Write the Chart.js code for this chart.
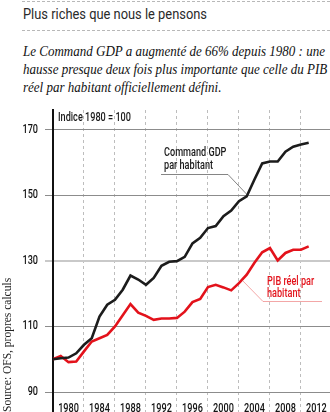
<!DOCTYPE html>
<html>
<head>
<meta charset="utf-8">
<script src="https://cdn.jsdelivr.net/npm/chart.js@4"></script>
<style>
  body { margin: 0; width: 330px; height: 412px; overflow: hidden; background: #fff; position: relative; }
  .wrap { position: absolute; left: 0; top: 0; width: 330px; height: 412px; }
  .dash { position: absolute; left: 22px; right: 0; border-top: 1px dashed #b8b8b8; height: 0; }
  .title { position: absolute; left: 23px; top: 6px; font: 14.5px Roboto, sans-serif; color: #2a2a2a; white-space: nowrap; transform-origin: 0 50%; }
  .sub { position: absolute; left: 23px; top: 42px; font: italic 15px "Liberation Serif", serif; line-height: 18px; color: #111; white-space: nowrap; }
  .sub span { display: block; transform-origin: 0 50%; width: max-content; }
</style>
</head>
<body>
<div class="dash" style="top:1px"></div>
<div class="title" id="title">Plus riches que nous le pensons</div>
<div class="dash" style="top:30px"></div>
<div class="sub" id="sub"><span>Le Command GDP a augmenté de 66% depuis 1980 : une</span><span>hausse presque deux fois plus importante que celle du PIB</span><span>réel par habitant officiellement défini.</span></div>
<div class="wrap"><canvas id="chart"></canvas></div>
<script>
const years = [1980, 1981, 1982, 1983, 1984, 1985, 1986, 1987, 1988, 1989, 1990, 1991, 1992, 1993, 1994, 1995, 1996,
  1997, 1998, 1999, 2000, 2001, 2002, 2003, 2004, 2005, 2006, 2007, 2008, 2009, 2010, 2011, 2012, 2013];
const commandGdp = [100, 100.3, 100.5, 101.8, 104.4, 106.4, 113.0, 116.6, 118.1, 121.2, 125.5, 124.3, 122.7, 124.8, 128.5, 129.7, 129.9,
  131.2, 135.3, 137.0, 140.0, 140.6, 143.6, 145.3, 148.2, 149.7, 154.8, 159.7, 160.3, 160.3, 163.3, 164.8, 165.5, 166.0];
const pibReel = [100, 101.0, 99.1, 99.3, 102.4, 105.4, 106.4, 107.4, 110.0, 113.4, 116.8, 114.2, 113.2, 112.0, 112.4, 112.4, 112.6,
  114.5, 117.4, 118.4, 122.0, 122.7, 121.9, 121.0, 123.2, 125.8, 129.4, 132.6, 133.9, 130.1, 132.4, 133.4, 133.4, 134.4];
const xLabels = ['1980', '1984', '1988', '1992', '1996', '2000', '2004', '2008', '2012'];
const yTicks = [90, 110, 130, 150, 170];

// no condensed font here, so squeeze the header text to the original widths
const subLines = document.querySelectorAll('#sub span');
const k = 302 / subLines[0].getBoundingClientRect().width;
subLines.forEach(s => { s.style.transform = 'scaleX(' + k + ')'; });
const title = document.getElementById('title');
title.style.transform = 'scaleX(' + (184 / title.getBoundingClientRect().width) + ')';

// same trick on the canvas: every label is drawn narrower around its anchor
const canvas = document.getElementById('chart');
const c2d = canvas.getContext('2d');
const rawFill = c2d.fillText.bind(c2d);
c2d.squeeze = 0.76;
c2d.fillText = function (t, x, y) {
  this.save();
  this.translate(x, y);
  this.scale(this.squeeze, 1);
  rawFill(t, 0, 0);
  this.restore();
};

const sans = 'Roboto, sans-serif';

const notes = {
  id: 'notes',
  afterDatasetsDraw(chart) {
    const ctx = chart.ctx;
    const x = chart.scales.x, y = chart.scales.y;
    ctx.save();
    ctx.font = '500 12px ' + sans;
    ctx.textBaseline = 'middle';
    ctx.fillStyle = '#1a1a1a';
    ctx.fillText('Indice 1980 = 100', 58, 118);
    ctx.fillText('Command GDP', 164, 153);
    ctx.fillText('par habitant', 164, 166);
    ctx.strokeStyle = '#666';
    ctx.lineWidth = 0.8;
    ctx.beginPath();
    ctx.moveTo(161, 174.5);
    ctx.lineTo(228, 174.5);
    ctx.lineTo(x.getPixelForValue(2005), y.getPixelForValue(commandGdp[25]) - 2);
    ctx.stroke();
    ctx.fillStyle = '#e3121b';
    ctx.fillText('PIB réel par', 267, 282);
    ctx.fillText('habitant', 267, 294);
    ctx.strokeStyle = '#f09090';
    ctx.beginPath();
    ctx.moveTo(x.getPixelForValue(2004.5), y.getPixelForValue((pibReel[24] + pibReel[25]) / 2) + 2);
    ctx.lineTo(263, 301.5);
    ctx.lineTo(322, 301.5);
    ctx.stroke();
    ctx.translate(11, 412);
    ctx.rotate(-Math.PI / 2);
    ctx.fillStyle = '#222';
    ctx.font = '11.5px "Liberation Serif", serif';
    ctx.textBaseline = 'alphabetic';
    ctx.squeeze = 1;
    ctx.fillText('Source: OFS, propres calculs', 0, 0);
    ctx.squeeze = 0.76;
    ctx.restore();
  }
};

new Chart(canvas, {
  type: 'line',
  data: {
    datasets: [
      {
        label: 'Command GDP par habitant',
        data: years.map((yr, i) => ({ x: yr, y: commandGdp[i] })),
        borderColor: '#1c1c1c',
        borderWidth: 2.6,
        pointRadius: 0,
        tension: 0
      },
      {
        label: 'PIB réel par habitant',
        data: years.map((yr, i) => ({ x: yr, y: pibReel[i] })),
        borderColor: '#e3121b',
        borderWidth: 2.6,
        pointRadius: 0,
        tension: 0
      }
    ]
  },
  options: {
    responsive: true,
    maintainAspectRatio: false,
    animation: false,
    layout: { padding: { top: 110, left: 0, right: 0, bottom: 0 } },
    plugins: { legend: { display: false }, tooltip: { enabled: false } },
    scales: {
      x: {
        type: 'linear',
        min: 1980,
        max: 2015.75,
        afterBuildTicks(scale) {
          const t = [];
          xLabels.forEach(l => { t.push({ value: +l }); t.push({ value: +l + 2 }); });
          scale.ticks = t;
        },
        afterFit(scale) { scale.height = 20; },
        grid: {
          color: c => c.tick && c.tick.value === 1980 ? '#111' : (c.tick && c.tick.value % 4 === 0 ? '#bdbdbd' : 'rgba(0,0,0,0)'),
          lineWidth: c => c.tick && c.tick.value === 1980 ? 2 : 1,
          tickLength: 20,
          tickBorderDash: c => c.tick && c.tick.value === 1980 ? [] : [3, 3]
        },
        border: { display: false, dash: [3, 3] },
        ticks: {
          autoSkip: false,
          maxRotation: 0,
          padding: -10,
          color: '#111',
          font: { family: sans, weight: 500, size: 12 },
          callback: v => (v % 4 === 2 ? xLabels[(v - 1982) / 4] : '')
        }
      },
      y: {
        min: 90,
        max: 176,
        afterBuildTicks(scale) { scale.ticks = yTicks.map(v => ({ value: v })); },
        afterFit(scale) { scale.width = 53; },
        grid: {
          color: c => c.tick && c.tick.value === 130 ? '#c9c9c9' : '#8c8c8c',
          lineWidth: c => c.tick && c.tick.value === 130 ? 2 : 1,
          tickLength: 8
        },
        border: { display: true, color: '#111', width: 2 },
        ticks: {
          padding: 7,
          color: '#111',
          font: { family: sans, weight: 500, size: 12 }
        }
      }
    }
  },
  plugins: [notes]
});
</script>
</body>
</html>
